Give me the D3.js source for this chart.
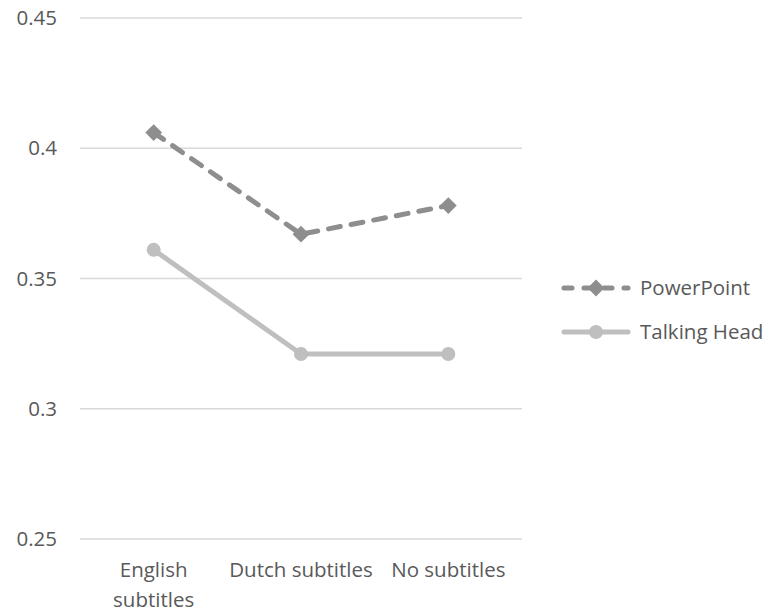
<!DOCTYPE html>
<html>
<head>
<meta charset="utf-8">
<script src="https://cdn.jsdelivr.net/npm/d3@7"></script>
<style>
  html, body { margin: 0; padding: 0; background: #fff; }
  svg text { font-family: "Open Sans", "Noto Sans", sans-serif; fill: #595959; }
</style>
</head>
<body>
<svg id="chart" width="765" height="614"></svg>
<script>
// Categories and series
const categories = [["English", "subtitles"], ["Dutch subtitles"], ["No subtitles"]];
const categoryKeys = ["English subtitles", "Dutch subtitles", "No subtitles"];
const powerPoint = [0.406, 0.367, 0.378];
const talkingHead = [0.361, 0.321, 0.321];
const yTicks = [0.25, 0.3, 0.35, 0.4, 0.45];

const series = [
  { name: "PowerPoint", values: powerPoint, color: "#8e8e8e", dash: "12 11", marker: "diamond" },
  { name: "Talking Head", values: talkingHead, color: "#bfbfbf", dash: null, marker: "circle" }
];

const svg = d3.select("#chart");
const plot = { left: 80, right: 522, top: 18, bottom: 539 };

const x = d3.scaleBand().domain(categoryKeys).range([plot.left, plot.right]);
const y = d3.scaleLinear().domain([0.25, 0.45]).range([plot.bottom, plot.top]);

// Horizontal gridlines
svg.append("g")
  .selectAll("line")
  .data(yTicks)
  .join("line")
  .attr("x1", plot.left).attr("x2", plot.right)
  .attr("y1", d => y(d)).attr("y2", d => y(d))
  .attr("stroke", "#d9d9d9").attr("stroke-width", 1.5);

// Y axis labels
const yAxis = d3.axisLeft(y).tickValues(yTicks).tickFormat(d => String(d)).tickSize(0).tickPadding(23);
const yg = svg.append("g").attr("transform", `translate(${plot.left},0)`).call(yAxis);
yg.select(".domain").remove();
yg.selectAll("text").attr("font-size", 20.5).style("font-family", '"Open Sans", sans-serif').attr("fill", "#595959");

// X axis labels (wrapped)
const xg = svg.append("g");
categoryKeys.forEach((k, i) => {
  const t = xg.append("text")
    .attr("x", x(k) + x.bandwidth() / 2)
    .attr("y", 577)
    .attr("text-anchor", "middle")
    .attr("font-size", 20.5);
  categories[i].forEach((line, j) => {
    t.append("tspan").attr("x", x(k) + x.bandwidth() / 2).attr("dy", j === 0 ? 0 : 30).text(line);
  });
});

const line = d3.line()
  .x((d, i) => x(categoryKeys[i]) + x.bandwidth() / 2)
  .y(d => y(d));

const diamond = d3.symbol().type(d3.symbolDiamond2).size(180);

function drawMarker(g, s, cx, cy) {
  if (s.marker === "diamond") {
    g.append("path").attr("d", diamond()).attr("transform", `translate(${cx},${cy})`).attr("fill", s.color);
  } else {
    g.append("circle").attr("cx", cx).attr("cy", cy).attr("r", 7).attr("fill", s.color);
  }
}

// Lines and markers
series.forEach(s => {
  const g = svg.append("g");
  g.append("path")
    .attr("d", line(s.values))
    .attr("fill", "none")
    .attr("stroke", s.color)
    .attr("stroke-width", 5)
    .attr("stroke-linecap", "round")
    .attr("stroke-linejoin", "round")
    .attr("stroke-dasharray", s.dash);
  s.values.forEach((v, i) => drawMarker(g, s, x(categoryKeys[i]) + x.bandwidth() / 2, y(v)));
});

// Legend
const legend = svg.append("g");
series.forEach((s, i) => {
  const ly = 288 + i * 44;
  legend.append("line")
    .attr("x1", 564).attr("x2", 628)
    .attr("y1", ly).attr("y2", ly)
    .attr("stroke", s.color).attr("stroke-width", 5)
    .attr("stroke-linecap", "round")
    .attr("stroke-dasharray", s.dash ? "8 12" : null);
  drawMarker(legend, s, 596, ly);
  legend.append("text")
    .attr("x", 640).attr("y", ly)
    .attr("dy", "0.35em")
    .attr("font-size", 20.5)
    .text(s.name);
});
</script>
</body>
</html>
